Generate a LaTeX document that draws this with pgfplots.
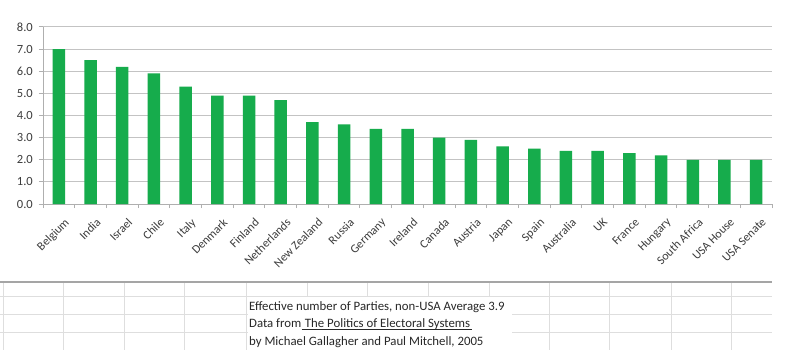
\documentclass[border=0pt]{standalone}
\usepackage{fontspec}
\setmainfont{Carlito}
\usepackage{pgfplots}
\pgfplotsset{compat=1.18}
\definecolor{bargreen}{RGB}{22,172,76}
\definecolor{gridgray}{RGB}{195,195,195}
\definecolor{axgray}{RGB}{175,175,175}
\definecolor{txtgray}{RGB}{60,60,60}
\definecolor{cellgray}{RGB}{222,222,222}
\definecolor{headgray}{RGB}{165,165,165}
\definecolor{notegray}{RGB}{40,40,40}
\begin{document}
\begin{tikzpicture}[x=1bp,y=1bp]
\useasboundingbox (0,0) rectangle (787,362);
\fill[white] (0,0) rectangle (787,362);
% spreadsheet grid below the chart
\foreach \yy in {66,48,30} \draw[cellgray, line width=1bp] (0,\yy) -- (772,\yy);
\foreach \xx in {3,63,124,184,246,549,609,671,731} \draw[cellgray, line width=1bp] (\xx,80) -- (\xx,12);
\foreach \xx in {307,367,428,489} \draw[cellgray, line width=1bp] (\xx,80) -- (\xx,66);
\draw[headgray, line width=1.3bp] (0,80) -- (772,80);
\fill[white] (248,65) rectangle (512,13);
\begin{axis}[
  at={(43bp,158bp)}, anchor=south west,
  scale only axis, width=729bp, height=177bp,
  xmin=-0.5, xmax=22.5, ymin=0, ymax=8,
  axis x line*=bottom, axis y line*=left,
  axis line style={draw=axgray, line width=1bp},
  ymajorgrids, grid style={draw=gridgray, line width=1bp},
  ytick={0,1,...,8},
  xtick={0,...,22},
  xticklabels={Belgium,India,Israel,Chile,Italy,Denmark,Finland,Netherlands,New Zealand,Russia,Germany,Ireland,Canada,Austria,Japan,Spain,Australia,UK,France,Hungary,South Africa,USA House,USA Senate},
  minor xtick={-0.5,0.5,...,22.5},
  tick align=outside,
  major tick length=4bp, minor tick length=4bp,
  xtick style={draw=none},
  minor x tick style={draw=axgray, line width=1bp},
  ytick style={draw=axgray, line width=1bp},
  xminorgrids=false,
  yticklabel style={font=\fontsize{12.5bp}{14bp}\selectfont, text=txtgray, inner sep=2bp, xshift=-4bp},
  /pgf/number format/.cd, fixed, fixed zerofill, precision=1, assume math mode=true,
  /pgfplots/.cd,
  xticklabel style={font=\fontsize{12bp}{13bp}\selectfont, text=txtgray, rotate=45, anchor=north east, inner sep=1bp, xshift=-2bp, yshift=-9bp},
  clip=false,
]
\addplot[ybar, bar width=12.5bp, fill=bargreen, draw=none, bar shift=0pt] coordinates {
(0,7.0) (1,6.5) (2,6.2) (3,5.9) (4,5.3) (5,4.9) (6,4.9) (7,4.7) (8,3.7) (9,3.6)
(10,3.4) (11,3.4) (12,3.0) (13,2.9) (14,2.6) (15,2.5) (16,2.4) (17,2.4) (18,2.3)
(19,2.2) (20,2.0) (21,2.0) (22,2.0)};
\end{axis}
\begin{scope}[every node/.style={font=\fontsize{12.8bp}{14bp}\selectfont, text=notegray, inner sep=0pt}]
\node[anchor=base west] at (249,51.5) {Effective number of Parties, non-USA Average 3.9};
\node[anchor=base west] (a) at (249,34.3) {Data from};
\node[anchor=base west] (b) at ([xshift=3.2bp]a.base east) {The Politics of Electoral Systems};
\draw[notegray, line width=0.8bp] ([yshift=-1.8bp]a.base east) -- ([yshift=-1.8bp,xshift=2bp]b.base east);
\node[anchor=base west] at (249,16.4) {by Michael Gallagher and Paul Mitchell, 2005};
\end{scope}
\end{tikzpicture}
\end{document}
